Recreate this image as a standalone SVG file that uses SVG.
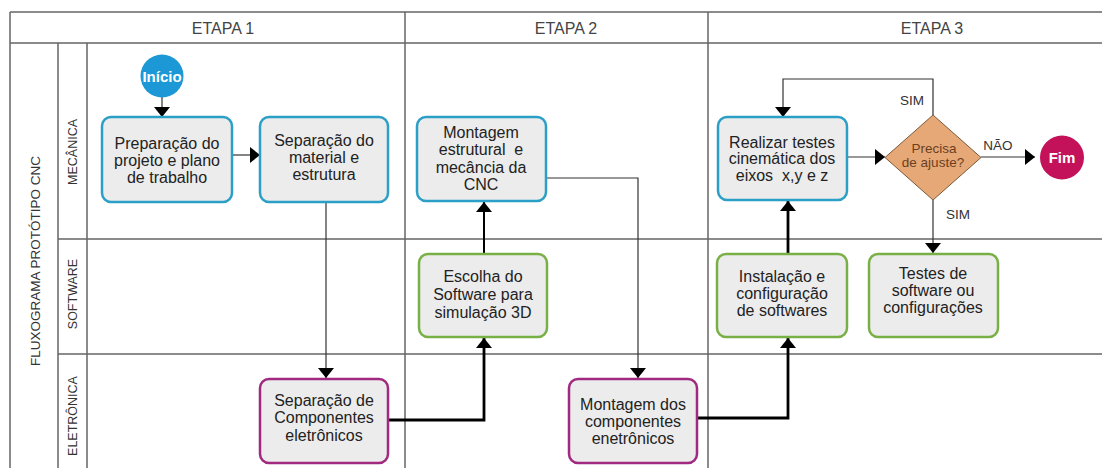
<svg xmlns="http://www.w3.org/2000/svg" width="1102" height="468" viewBox="0 0 1102 468">
<style>
  text{white-space:pre}
  .grid{stroke:#666;stroke-width:1.5;fill:none}
  .hdr{font-family:"Liberation Sans",Arial,sans-serif;font-size:16px;fill:#444;text-anchor:middle}
  .lane{font-family:"Liberation Sans",Arial,sans-serif;font-size:12.5px;fill:#333;text-anchor:middle}
  .pool{font-family:"Liberation Sans",Arial,sans-serif;font-size:13.5px;fill:#333;text-anchor:middle}
  .box{fill:#ececec;stroke-width:2.5}
  .blue{stroke:#2b9fc6}
  .green{stroke:#78b046}
  .mag{stroke:#a1297f}
  .t{font-family:"Liberation Sans",Arial,sans-serif;font-size:16px;fill:#222;text-anchor:middle}
  .lbl{font-family:"Liberation Sans",Arial,sans-serif;font-size:13.5px;fill:#333;text-anchor:middle}
  .dt{font-family:"Liberation Sans",Arial,sans-serif;font-size:13.5px;fill:#6b3f1e;text-anchor:middle}
  .ct{font-family:"Liberation Sans",Arial,sans-serif;font-size:15px;font-weight:bold;fill:#fff;text-anchor:middle}
  .thin{stroke:#333;stroke-width:1.2;fill:none;marker-end:url(#ah)}
  .thick{stroke:#000;stroke-width:2.8;fill:none;marker-end:url(#ah)}
</style>
<defs>
  <marker id="ah" viewBox="0 0 10 16" refX="10" refY="8" markerWidth="10" markerHeight="16" markerUnits="userSpaceOnUse" orient="auto">
    <path d="M0,0 L10,8 L0,16 z" fill="#000"/>
  </marker>
</defs>
<rect width="1102" height="468" fill="#fff"/>
<g id="grid">
  <path class="grid" d="M10,12 H1102 M10,43 H1102 M10,12 V468 M405,12 V468 M708,12 V468 M58,43 V468 M87,43 V468 M58,239 H1102 M58,354 H1102"/>
  <text class="hdr" x="223" y="34">ETAPA 1</text>
  <text class="hdr" x="566" y="34">ETAPA 2</text>
  <text class="hdr" x="932" y="34">ETAPA 3</text>
  <text class="pool" transform="translate(40,261) rotate(-90)">FLUXOGRAMA PROTÓTIPO CNC</text>
  <text class="lane" transform="translate(77,152) rotate(-90)">MECÂNICA</text>
  <text class="lane" transform="translate(77,294) rotate(-90)">SOFTWARE</text>
  <text class="lane" transform="translate(77,416) rotate(-90)">ELETRÔNICA</text>
</g>
<g id="connectors">
  <path class="thin" d="M162,97 V117"/>
  <path class="thin" d="M232,155 H260"/>
  <path class="thin" d="M326,202 V378"/>
  <path class="thick" d="M388,420 H484 V338"/>
  <path class="thick" style="stroke-width:2" d="M484,254 V202"/>
  <path class="thin" d="M546,178 H638 V378"/>
  <path class="thick" d="M697,418 H788 V338"/>
  <path class="thick" d="M788,254 V201"/>
  <path class="thin" d="M847,157 H885"/>
  <path class="thin" d="M933,115 V79 H783 V117"/>
  <path class="thin" d="M981,157 H1035"/>
  <path class="thin" d="M933,200 V253"/>
  <text class="lbl" x="912" y="105">SIM</text>
  <text class="lbl" x="998" y="150">NÃO</text>
  <text class="lbl" x="958" y="219">SIM</text>
</g>
<g id="inicio">
  <circle cx="162" cy="76" r="21.5" fill="#1b98d5"/>
  <text class="ct" x="162" y="81.5">Início</text>
</g>
<g id="preparacao">
  <rect class="box blue" x="102" y="117" width="130" height="85" rx="9"/>
  <text class="t" x="167" y="149">Preparação do</text>
  <text class="t" x="167" y="166">projeto e plano</text>
  <text class="t" x="167" y="183">de trabalho</text>
</g>
<g id="separacao-material">
  <rect class="box blue" x="260" y="117" width="128" height="85" rx="9"/>
  <text class="t" x="324" y="146">Separação do</text>
  <text class="t" x="324" y="163">material e</text>
  <text class="t" x="324" y="180">estrutura</text>
</g>
<g id="separacao-componentes">
  <rect class="box mag" x="260" y="379" width="128" height="84" rx="9"/>
  <text class="t" x="324" y="405.5">Separação de</text>
  <text class="t" x="324" y="423">Componentes</text>
  <text class="t" x="324" y="440.5">eletrônicos</text>
</g>
<g id="montagem-estrutural">
  <rect class="box blue" x="417" y="117" width="129" height="84" rx="9"/>
  <text class="t" x="481" y="137.5">Montagem</text>
  <text class="t" x="481" y="155">estrutural  e</text>
  <text class="t" x="481" y="172.5">mecância da</text>
  <text class="t" x="481" y="189.5">CNC</text>
</g>
<g id="escolha-software">
  <rect class="box green" x="419" y="254" width="128" height="83" rx="9"/>
  <text class="t" x="483" y="281.5">Escolha do</text>
  <text class="t" x="483" y="299.5">Software para</text>
  <text class="t" x="483" y="317.5">simulação 3D</text>
</g>
<g id="montagem-componentes">
  <rect class="box mag" x="569" y="379" width="128" height="84" rx="9"/>
  <text class="t" x="633" y="409.5">Montagem dos</text>
  <text class="t" x="633" y="427">componentes</text>
  <text class="t" x="633" y="443.5">enetrônicos</text>
</g>
<g id="realizar-testes">
  <rect class="box blue" x="718" y="117" width="129" height="83" rx="9"/>
  <text class="t" x="782" y="147.5">Realizar testes</text>
  <text class="t" x="782" y="164">cinemática dos</text>
  <text class="t" x="782" y="180.5">eixos  x,y e z</text>
</g>
<g id="instalacao">
  <rect class="box green" x="717" y="254" width="130" height="83" rx="9"/>
  <text class="t" x="782" y="281.5">Instalação e</text>
  <text class="t" x="782" y="298.5">configuração</text>
  <text class="t" x="782" y="315.5">de softwares</text>
</g>
<g id="decisao">
  <path d="M933,115 L981,157.5 L933,200 L885,157.5 z" fill="#e7a877" stroke="#7a5a3a" stroke-width="1"/>
  <text class="dt" x="934" y="153">Precisa</text>
  <text class="dt" x="933" y="167">de ajuste?</text>
</g>
<g id="testes">
  <rect class="box green" x="869" y="254" width="129" height="83" rx="9"/>
  <text class="t" x="933" y="278.5">Testes de</text>
  <text class="t" x="933" y="295.5">software ou</text>
  <text class="t" x="933" y="312.5">configurações</text>
</g>
<g id="fim">
  <circle cx="1062" cy="157.5" r="22" fill="#c4125a"/>
  <text class="ct" x="1062" y="163">Fim</text>
</g>
</svg>
